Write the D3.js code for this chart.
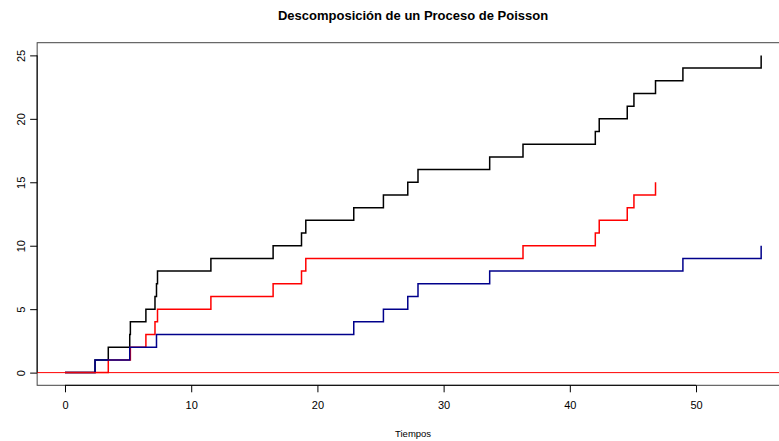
<!DOCTYPE html>
<html>
<head>
<meta charset="utf-8">
<script src="https://cdn.jsdelivr.net/npm/d3@7"></script>
<style>
  html, body { margin: 0; padding: 0; background: #fff; }
  svg { display: block; font-family: "Liberation Sans", Arial, Helvetica, sans-serif; }
</style>
</head>
<body>
<svg id="chart" width="779" height="441"></svg>
<script>
// Arrival times of the two thinned sub-processes and of the full process
const redTimes  = [3.43, 5.18, 6.41, 7.13, 7.33, 11.56, 16.49, 18.74, 19.08, 36.29,
                   42.02, 42.33, 44.55, 45.08, 46.79];
const blueTimes = [2.38, 5.13, 7.25, 22.88, 25.23, 27.16, 27.97, 33.65, 48.96, 55.16];
const totalTimes = [2.38, 3.43, 5.13, 5.18, 6.41, 7.13, 7.25, 7.33, 11.56, 16.49,
                    18.74, 19.08, 22.88, 25.23, 27.16, 27.97, 33.65, 36.29, 42.02, 42.33,
                    44.55, 45.08, 46.79, 48.96, 55.16];
const xTicks = [0, 10, 20, 30, 40, 50];
const yTicks = [0, 5, 10, 15, 20, 25];
const titleText = "Descomposición de un Proceso de Poisson";
const xLabel = "Tiempos";

const svg = d3.select("#chart");

// Plot region (the right edge runs past the visible canvas)
const plotL = 37.15, plotR = 789, plotT = 42.7, plotB = 385.3;

// Axis limits padded by 4% on each side
const xMax = d3.max(totalTimes);
const xPad = xMax * 0.04;
const x = d3.scaleLinear().domain([-xPad, xMax + xPad]).range([plotL, plotR]);
const yMax = totalTimes.length;
const yPad = yMax * 0.04;
const y = d3.scaleLinear().domain([-yPad, yMax + yPad]).range([plotB, plotT]);

// Counting process as (time, count) pairs starting from the origin
const counts = times => [[0, 0]].concat(times.map((t, i) => [t, i + 1]));

const step = d3.line()
  .x(d => x(d[0]))
  .y(d => y(d[1]))
  .curve(d3.curveStepAfter);

const plot = svg.append("g");

// Frame around the plotting region
plot.append("rect")
  .attr("x", plotL).attr("y", plotT)
  .attr("width", plotR - plotL).attr("height", plotB - plotT)
  .attr("fill", "none").attr("stroke", "#444").attr("stroke-width", 1);

// Step paths: full process, then the two components
const series = [
  { times: totalTimes, color: "#000000" },
  { times: redTimes,   color: "#FF0000" },
  { times: blueTimes,  color: "#00008B" }
];
series.forEach(s => {
  plot.append("path")
    .datum(counts(s.times))
    .attr("d", step)
    .attr("fill", "none")
    .attr("stroke", s.color)
    .attr("stroke-width", 1.5)
    .attr("stroke-linejoin", "miter");
});

// Horizontal reference line at zero
plot.append("line")
  .attr("x1", plotL).attr("x2", plotR)
  .attr("y1", y(0)).attr("y2", y(0))
  .attr("stroke", "#FF0000").attr("stroke-width", 1);

// Bottom axis
const xAxis = d3.axisBottom(x).tickValues(xTicks).tickSize(7).tickPadding(9)
  .tickFormat(d3.format("d"));
const gx = svg.append("g").attr("transform", `translate(0,${plotB})`).call(xAxis);
gx.select(".domain").attr("d", `M${x(xTicks[0])},0H${x(xTicks[xTicks.length - 1])}`)
  .attr("stroke", "#000");
gx.selectAll(".tick line").attr("stroke", "#000");
gx.selectAll(".tick text").attr("font-size", 11).attr("fill", "#000")
  .attr("font-family", "Liberation Sans, Arial, sans-serif");

// Left axis with rotated labels
const yAxis = d3.axisLeft(y).tickValues(yTicks).tickSize(7).tickPadding(0)
  .tickFormat(d3.format("d"));
const gy = svg.append("g").attr("transform", `translate(${plotL},0)`).call(yAxis);
gy.select(".domain").attr("d", `M0,${y(yTicks[0])}V${y(yTicks[yTicks.length - 1])}`)
  .attr("stroke", "#000");
gy.selectAll(".tick line").attr("stroke", "#000");
gy.selectAll(".tick text")
  .attr("font-size", 11).attr("fill", "#000")
  .attr("font-family", "Liberation Sans, Arial, sans-serif")
  .attr("x", null).attr("dy", null)
  .attr("text-anchor", "middle")
  .attr("transform", "translate(-12,0) rotate(-90)");

// Title and axis label
svg.append("text")
  .attr("x", (plotL + plotR) / 2).attr("y", 20)
  .attr("text-anchor", "middle")
  .attr("font-size", 13).attr("font-weight", "bold")
  .text(titleText);

svg.append("text")
  .attr("x", (plotL + plotR) / 2).attr("y", 437)
  .attr("text-anchor", "middle")
  .attr("font-size", 9.5)
  .text(xLabel);
</script>
</body>
</html>
